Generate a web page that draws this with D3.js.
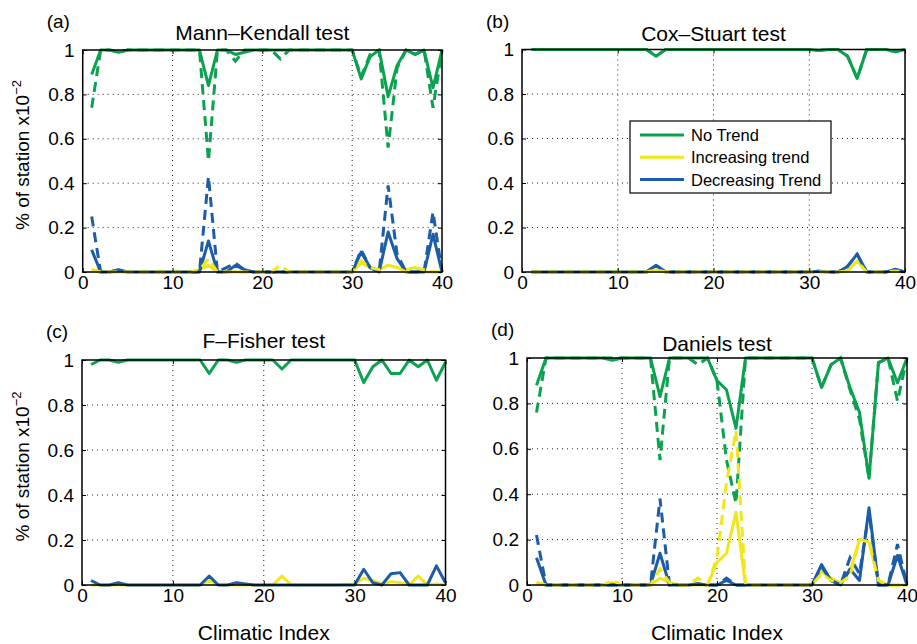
<!DOCTYPE html>
<html>
<head>
<meta charset="utf-8">
<script src="https://cdn.jsdelivr.net/npm/d3@7"></script>
<style>
  body { margin: 0; background: #fff; }
  text { font-family: "Liberation Sans", Arial, Helvetica, sans-serif; fill: #000; }
</style>
</head>
<body>
<div id="chart"></div>
<script>
// x positions (climatic index)
const climaticIndex = [1,2,3,4,5,6,7,8,9,10,11,12,13,14,15,16,17,18,19,20,
  21,22,23,24,25,26,27,28,29,30,31,32,33,34,35,36,37,38,39,40];
const xTicks = [0, 10, 20, 30, 40];
const yTicks = [0, 0.2, 0.4, 0.6, 0.8, 1];
const legendLabels = ["No Trend", "Increasing trend", "Decreasing Trend"];

// (a) Mann-Kendall
const mkNoTrend = [0.89,1,1,0.99,1,1,1,1,1,1, 1,1,1,0.84,1,1,0.98,0.99,1,1, 1,1,1,1,1,1,1,1,1,1, 0.87,0.97,1,0.79,0.93,1,0.98,1,0.83,1];
const mkNoTrendDash = [0.74,1,1,0.99,1,1,1,1,1,1, 1,1,1,0.50,1,1,0.95,1,1,1, 1,0.96,1,1,1,1,1,1,1,1, 0.88,0.98,1,0.56,0.92,1,0.98,1,0.74,1];
const mkInc = [0.01,0,0,0,0,0,0,0,0,0, 0,0,0.01,0.03,0,0,0,0,0,0, 0,0,0,0,0,0,0,0,0,0, 0.04,0.02,0.01,0.03,0.02,0.01,0.02,0,0,0];
const mkIncDash = [0.01,0,0,0,0,0,0,0,0,0, 0,0,0.01,0.06,0,0,0,0,0,0, 0,0.03,0,0,0,0,0,0,0,0, 0.05,0.02,0.01,0.03,0.02,0,0.02,0.01,0,0];
const mkDec = [0.10,0,0,0.01,0,0,0,0,0,0, 0,0,0,0.14,0,0,0.03,0.01,0,0, 0,0,0,0,0,0,0,0,0,0, 0.09,0.02,0,0.18,0.06,0,0,0,0.17,0];
const mkDecDash = [0.25,0,0,0.01,0,0,0,0,0,0, 0,0,0,0.43,0,0.02,0.04,0.01,0,0, 0,0,0,0,0,0,0,0,0,0, 0.10,0.02,0,0.39,0.08,0,0,0,0.27,0];

// (b) Cox-Stuart
const csNoTrend = [1,1,1,1,1,1,1,1,1,1, 1,1,1,0.97,1,1,1,1,1,1, 1,1,1,1,1,1,1,1,1,1, 0.995,1,1,0.97,0.87,1,1,1,0.99,1];
const csInc = [0,0,0,0,0,0,0,0,0,0, 0,0,0,0.01,0,0,0,0,0,0, 0,0,0,0,0,0,0,0,0,0, 0,0,0,0.005,0.05,0,0,0,0.005,0];
const csDec = [0,0,0,0,0,0,0,0,0,0, 0,0,0,0.03,0,0,0,0,0,0, 0,0,0,0,0,0,0,0,0,0, 0.003,0,0,0.025,0.08,0,0,0,0.012,0];

// (c) F-Fisher
const ffNoTrend = [0.98,1,1,0.99,1,1,1,1,1,1, 1,1,1,0.94,1,1,0.99,1,1,1, 1,0.96,1,1,1,1,1,1,1,1, 0.90,0.97,1,0.94,0.94,1,0.97,1,0.91,0.99];
const ffInc = [0,0,0,0,0,0,0,0,0,0, 0,0,0,0.02,0,0,0,0,0,0, 0,0.04,0,0,0,0,0,0,0.003,0.005, 0.03,0.02,0.005,0.015,0.01,0,0.04,0,0.005,0];
const ffDec = [0.02,0,0,0.01,0,0,0,0,0,0, 0,0,0,0.04,0,0,0.01,0.005,0,0, 0,0,0,0,0,0,0,0,0,0, 0.07,0.01,0,0.05,0.055,0,0,0,0.085,0.01];

// (d) Daniels
const dnNoTrend = [0.88,1,1,1,1,1,1,1,0.99,1, 1,1,1,0.83,1,1,1,1,1,0.90, 0.86,0.69,1,1,1,1,1,1,1,1, 0.87,0.97,1,0.87,0.76,0.47,0.98,1,0.89,1];
const dnNoTrendDash = [0.76,1,1,1,1,1,1,1,1,1, 1,1,1,0.55,1,1,1,0.97,1,0.90, 0.55,0.36,1,1,1,1,1,1,1,1, 0.87,0.97,1,0.86,0.73,0.47,0.98,1,0.81,1];
const dnInc = [0.01,0,0,0,0,0,0,0,0.01,0, 0,0,0,0.03,0.01,0,0,0,0,0.10, 0.14,0.32,0,0,0,0,0,0,0,0, 0.06,0.03,0.01,0.06,0.20,0.19,0.02,0,0,0];
const dnIncDash = [0.01,0,0,0,0,0,0,0,0.02,0, 0,0,0,0.07,0.01,0,0,0.03,0,0.12, 0.45,0.68,0,0,0,0,0,0,0,0, 0.05,0.02,0.01,0.04,0.20,0.19,0.02,0,0,0];
const dnDec = [0.12,0,0,0,0,0,0,0,0,0, 0,0,0,0.14,0,0,0,0.005,0,0, 0.02,0,0,0,0,0,0,0,0,0, 0.09,0.02,0,0.07,0.02,0.34,0,0,0.13,0];
const dnDecDash = [0.22,0,0,0,0,0,0,0,0,0, 0,0,0,0.38,0,0,0,0.005,0,0, 0.03,0,0,0,0,0,0,0,0,0, 0.08,0.02,0,0.12,0.05,0.32,0,0,0.18,0];

const green = "#0ba24f", yellow = "#f0e61a", blue = "#1d5ca9";

const svg = d3.select("#chart").append("svg")
  .attr("width", 917).attr("height", 644);

const panels = [
  { tag: "(a)", title: "Mann\u2013Kendall test", left: 82.7, right: 442, top: 50, bottom: 272,
    titleY: 40, ylabel: true, xlabel: false,
    solid: [mkNoTrend, mkInc, mkDec], dashed: [mkNoTrendDash, mkIncDash, mkDecDash] },
  { tag: "(b)", title: "Cox\u2013Stuart test", left: 522, right: 905, top: 49.5, bottom: 272,
    titleY: 40.5, ylabel: false, xlabel: false, legend: true,
    solid: [csNoTrend, csInc, csDec], dashed: [csNoTrend, csInc, csDec] },
  { tag: "(c)", title: "F\u2013Fisher test", left: 82, right: 445.5, top: 360, bottom: 585,
    titleY: 348, ylabel: true, xlabel: true,
    solid: [ffNoTrend, ffInc, ffDec], dashed: null },
  { tag: "(d)", title: "Daniels test", left: 527, right: 907, top: 358, bottom: 585,
    titleY: 351, ylabel: false, xlabel: true,
    solid: [dnNoTrend, dnInc, dnDec], dashed: [dnNoTrendDash, dnIncDash, dnDecDash] }
];

panels.forEach(function (p) {
  const x = d3.scaleLinear().domain([0, 40]).range([p.left, p.right]);
  const y = d3.scaleLinear().domain([0, 1]).range([p.bottom, p.top]);
  const g = svg.append("g");

  // dotted grid
  g.append("g").selectAll("line").data(xTicks.slice(1, -1)).join("line")
    .attr("x1", d => x(d)).attr("x2", d => x(d))
    .attr("y1", p.top).attr("y2", p.bottom)
    .attr("stroke", "#222").attr("stroke-width", 1).attr("stroke-dasharray", "1,4");
  g.append("g").selectAll("line").data(yTicks.slice(1, -1)).join("line")
    .attr("x1", p.left).attr("x2", p.right)
    .attr("y1", d => y(d)).attr("y2", d => y(d))
    .attr("stroke", "#222").attr("stroke-width", 1).attr("stroke-dasharray", "1,4");

  const line = d3.line().x((d, i) => x(climaticIndex[i])).y(d => y(d));
  const colors = [green, yellow, blue];

  p.solid.forEach(function (vals, k) {
    g.append("path").datum(vals).attr("d", line)
      .attr("fill", "none").attr("stroke", colors[k]).attr("stroke-width", 3)
      .attr("stroke-linejoin", "round");
  });
  if (p.dashed) {
    [0, 2, 1].forEach(function (k) {
      g.append("path").datum(p.dashed[k]).attr("d", line)
        .attr("fill", "none").attr("stroke", colors[k]).attr("stroke-width", 3)
        .attr("stroke-dasharray", "10,6");
    });
  }

  // axes (MATLAB style: ticks inside)
  const fmt = d3.format("~g");
  const bx = g.append("g").attr("transform", `translate(0,${p.bottom})`)
    .call(d3.axisBottom(x).tickValues(xTicks).tickSizeInner(-4).tickSizeOuter(0).tickPadding(4));
  const ly = g.append("g").attr("transform", `translate(${p.left},0)`)
    .call(d3.axisLeft(y).tickValues(yTicks).tickFormat(fmt).tickSizeInner(-4).tickSizeOuter(0).tickPadding(8));
  g.append("g").attr("transform", `translate(0,${p.top})`)
    .call(d3.axisTop(x).tickValues(xTicks).tickFormat("").tickSizeInner(-4).tickSizeOuter(0));
  g.append("g").attr("transform", `translate(${p.right},0)`)
    .call(d3.axisRight(y).tickValues(yTicks).tickFormat("").tickSizeInner(-4).tickSizeOuter(0));
  g.selectAll(".domain").remove();
  g.selectAll(".tick line").attr("stroke", "#000");
  bx.selectAll("text").style("font-size", "19px").style("font-family", "Liberation Sans, Arial, sans-serif");
  ly.selectAll("text").style("font-size", "19px").style("font-family", "Liberation Sans, Arial, sans-serif");

  g.append("rect")
    .attr("x", p.left).attr("y", p.top)
    .attr("width", p.right - p.left).attr("height", p.bottom - p.top)
    .attr("fill", "none").attr("stroke", "#000").attr("stroke-width", 1.5);

  // title and tag
  g.append("text").attr("x", (p.left + p.right) / 2).attr("y", p.titleY)
    .attr("text-anchor", "middle").style("font-size", "21px").text(p.title);
  g.append("text").attr("x", p.left - 36).attr("y", p.top - 22)
    .style("font-size", "19px").text(p.tag);

  if (p.ylabel) {
    const yl = g.append("text")
      .attr("transform", `translate(29,${(p.top + p.bottom) / 2 - 6}) rotate(-90)`)
      .attr("text-anchor", "middle").style("font-size", "19px");
    yl.append("tspan").text("% of station x10");
    yl.append("tspan").attr("dy", -8).style("font-size", "13px").text("\u22122");
  }
  if (p.xlabel) {
    g.append("text").attr("x", (p.left + p.right) / 2).attr("y", 640)
      .attr("text-anchor", "middle").style("font-size", "21px").text("Climatic Index");
  }

  if (p.legend) {
    const lg = g.append("g").attr("transform", "translate(630,121)");
    lg.append("rect").attr("width", 201).attr("height", 72)
      .attr("fill", "#fff").attr("stroke", "#000").attr("stroke-width", 1.2);
    legendLabels.forEach(function (lab, k) {
      const cy = 14 + k * 22.3;
      lg.append("line").attr("x1", 10).attr("x2", 54).attr("y1", cy).attr("y2", cy)
        .attr("stroke", colors[k]).attr("stroke-width", 3);
      lg.append("text").attr("x", 61).attr("y", cy + 6)
        .style("font-size", "16.5px").text(lab);
    });
  }
});
</script>
</body>
</html>
